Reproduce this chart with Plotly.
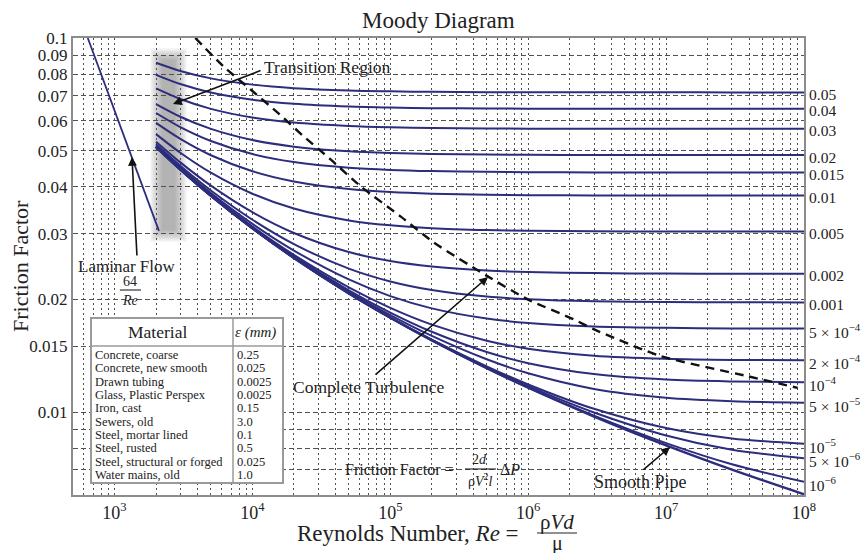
import math
import plotly.graph_objects as go

# ---------------- data ----------------
re_points = [2000, 3000, 5000, 1e4, 2e4, 5e4, 1e5, 2e5, 5e5, 1e6, 3e6, 1e7, 3e7, 1e8]

f_r_0_05 = [0.08584, 0.08162, 0.07799, 0.07505, 0.07344, 0.07238, 0.07200, 0.07179, 0.07166, 0.07161, 0.07158, 0.07156, 0.07155, 0.07155]
f_r_0_04 = [0.07972, 0.07532, 0.07152, 0.06840, 0.06669, 0.06556, 0.06515, 0.06493, 0.06478, 0.06473, 0.06469, 0.06468, 0.06467, 0.06467]
f_r_0_03 = [0.07334, 0.06870, 0.06464, 0.06127, 0.05940, 0.05816, 0.05770, 0.05746, 0.05730, 0.05724, 0.05720, 0.05718, 0.05717, 0.05717]
f_r_0_02 = [0.06658, 0.06159, 0.05714, 0.05336, 0.05123, 0.04979, 0.04926, 0.04897, 0.04878, 0.04872, 0.04867, 0.04865, 0.04864, 0.04864]
f_r_0_015 = [0.06302, 0.05778, 0.05304, 0.04895, 0.04659, 0.04499, 0.04439, 0.04407, 0.04386, 0.04378, 0.04372, 0.04370, 0.04369, 0.04369]
f_r_0_01 = [0.05928, 0.05373, 0.04859, 0.04404, 0.04135, 0.03946, 0.03875, 0.03836, 0.03811, 0.03801, 0.03794, 0.03792, 0.03791, 0.03791]
f_r_0_005 = [0.05533, 0.04935, 0.04364, 0.03833, 0.03499, 0.03253, 0.03156, 0.03102, 0.03066, 0.03052, 0.03043, 0.03039, 0.03038, 0.03037]
f_r_0_002 = [0.05283, 0.04650, 0.04030, 0.03422, 0.03011, 0.02677, 0.02533, 0.02449, 0.02390, 0.02368, 0.02352, 0.02345, 0.02343, 0.02342]
f_r_0_001 = [0.05197, 0.04551, 0.03910, 0.03267, 0.02812, 0.02418, 0.02234, 0.02119, 0.02035, 0.02003, 0.01978, 0.01969, 0.01965, 0.01964]
f_r_5e_4 = [0.05153, 0.04500, 0.03848, 0.03184, 0.02702, 0.02262, 0.02041, 0.01893, 0.01778, 0.01730, 0.01693, 0.01679, 0.01673, 0.01671]
f_r_2e_4 = [0.05127, 0.04470, 0.03810, 0.03132, 0.02631, 0.02155, 0.01899, 0.01713, 0.01551, 0.01477, 0.01415, 0.01388, 0.01378, 0.01375]
f_r_1e_4 = [0.05118, 0.04459, 0.03797, 0.03115, 0.02606, 0.02116, 0.01845, 0.01639, 0.01447, 0.01351, 0.01263, 0.01221, 0.01207, 0.01201]
f_r_5e_5 = [0.05114, 0.04454, 0.03791, 0.03106, 0.02594, 0.02096, 0.01816, 0.01598, 0.01384, 0.01269, 0.01153, 0.01092, 0.01069, 0.01059]
f_r_1e_5 = [0.05110, 0.04450, 0.03786, 0.03099, 0.02584, 0.02080, 0.01792, 0.01562, 0.01325, 0.01185, 0.01020, 0.009058, 0.008500, 0.008224]
f_r_5e_6 = [0.05110, 0.04450, 0.03785, 0.03098, 0.02583, 0.02078, 0.01789, 0.01558, 0.01317, 0.01173, 0.009974, 0.008657, 0.007927, 0.007519]
f_r_1e_6 = [0.05109, 0.04449, 0.03784, 0.03097, 0.02582, 0.02076, 0.01787, 0.01554, 0.01311, 0.01163, 0.009776, 0.008258, 0.007249, 0.006506]
f_smooth = [0.05109, 0.04449, 0.03784, 0.03097, 0.02581, 0.02076, 0.01786, 0.01553, 0.01309, 0.01161, 0.009724, 0.008142, 0.007013, 0.006026]

roughness_labels = ["0.05", "0.04", "0.03", "0.02", "0.015", "0.01", "0.005", "0.002", "0.001",
                    "5 × 10<sup>−4</sup>", "2 × 10<sup>−4</sup>", "10<sup>−4</sup>", "5 × 10<sup>−5</sup>",
                    "10<sup>−5</sup>", "5 × 10<sup>−6</sup>", "10<sup>−6</sup>"]

laminar_re = [640, 2100]
laminar_f = [0.1, 0.0305]

turb_re = [3850, 6218, 9752, 15300, 23620, 37050, 61130, 119200, 206700, 508700, 991700, 2136000, 2983000, 9120000, 38960000, 90000000]
turb_f = [0.1, 0.0837, 0.0727, 0.0631, 0.0545, 0.0473, 0.0401, 0.0333, 0.0284, 0.02305, 0.02001, 0.0177, 0.01665, 0.01411, 0.01247, 0.0116]

materials = ["Concrete, coarse", "Concrete, new smooth", "Drawn tubing", "Glass, Plastic Perspex",
             "Iron, cast", "Sewers, old", "Steel, mortar lined", "Steel, rusted",
             "Steel, structural or forged", "Water mains, old"]
eps_mm = ["0.25", "0.025", "0.0025", "0.0025", "0.15", "3.0", "0.1", "0.5", "0.025", "1.0"]

x_decades = [100, 1000, 10000, 100000, 1000000, 10000000]
x_mult = [1, 2, 3, 4, 5, 6, 7, 8, 9]
y_grid_vals = [0.006, 0.007, 0.008, 0.009, 0.01, 0.015, 0.02, 0.03, 0.04, 0.05, 0.06, 0.07, 0.08, 0.09, 0.1]
y_grid_text = ["", "", "", "", "0.01", "0.015", "0.02", "0.03", "0.04", "0.05", "0.06", "0.07", "0.08", "0.09", "0.1"]

# ---------------- layout helpers ----------------
W, H = 865, 553
L, R, T, B = 73, 61, 38, 58
PW, PH = W - L - R, H - T - B
FONT = "Liberation Serif"
INK = "#222222"
CURVE = "#2d2d7d"


def P(px, py):
    return (px - L) / PW, (H - B - py) / PH


x_grid_vals = [d * m for d in x_decades for m in x_mult if 500 <= d * m <= 1e8] + [1e8]
x_grid_text = []
for v in x_grid_vals:
    e = math.log10(v)
    x_grid_text.append("10<sup>%d</sup>" % round(e) if abs(e - round(e)) < 1e-9 else "")

rough_curves = [f_r_0_05, f_r_0_04, f_r_0_03, f_r_0_02, f_r_0_015, f_r_0_01, f_r_0_005, f_r_0_002,
                f_r_0_001, f_r_5e_4, f_r_2e_4, f_r_1e_4, f_r_5e_5, f_r_1e_5, f_r_5e_6, f_r_1e_6]

fig = go.Figure()

for lab, ys in zip(roughness_labels, rough_curves):
    fig.add_trace(go.Scatter(x=re_points, y=ys, mode="lines", name=lab,
                             line=dict(color=CURVE, width=2, shape="spline", smoothing=0.8),
                             hoverinfo="skip"))
fig.add_trace(go.Scatter(x=re_points, y=f_smooth, mode="lines", name="smooth",
                         line=dict(color=CURVE, width=2.4, shape="spline", smoothing=0.8)))
fig.add_trace(go.Scatter(x=laminar_re, y=laminar_f, mode="lines", name="laminar",
                         line=dict(color=CURVE, width=1.8)))
fig.add_trace(go.Scatter(x=turb_re, y=turb_f, mode="lines", name="complete turbulence",
                         line=dict(color="#111111", width=2.4, dash="9px,6px", shape="spline", smoothing=0.6)))

shapes = []
# blurred grey transition band
for i in range(10):
    d = i * 1.3
    x0, y0 = P(162 - d, 60 - d)
    x1, y1 = P(175 + d, 230 + d)
    shapes.append(dict(type="rect", xref="paper", yref="paper", x0=x0, y0=y0, x1=x1, y1=y1,
                       fillcolor="rgba(120,120,120,0.075)", line=dict(width=0), layer="below"))

# material table
tx0, ty0 = P(91, 318)
tx1, ty1 = P(283, 483)
shapes.append(dict(type="rect", xref="paper", yref="paper", x0=tx0, y0=ty0, x1=tx1, y1=ty1,
                   fillcolor="white", line=dict(color="#9a9a9a", width=2), layer="above"))
hx0, hy = P(91, 346)
hx1, _ = P(283, 346)
shapes.append(dict(type="line", xref="paper", yref="paper", x0=hx0, y0=hy, x1=hx1, y1=hy,
                   line=dict(color="#9a9a9a", width=1.5), layer="above"))
vx, vy0 = P(233, 318)
_, vy1 = P(233, 483)
shapes.append(dict(type="line", xref="paper", yref="paper", x0=vx, y0=vy0, x1=vx, y1=vy1,
                   line=dict(color="#9a9a9a", width=1.5), layer="above"))


def hline(px0, px1, py, w=1.1):
    a, b = P(px0, py)
    c, _ = P(px1, py)
    shapes.append(dict(type="line", xref="paper", yref="paper", x0=a, y0=b, x1=c, y1=b,
                       line=dict(color=INK, width=w), layer="above"))


hline(120, 141, 290)     # 64/Re
hline(465, 496, 469)     # 2d / rho V^2 l
hline(537, 577, 533)     # rho V d / mu

ann = []


def text(px, py, s, size=16, anchor="center", angle=0, color=INK):
    x, y = P(px, py)
    ann.append(dict(x=x, y=y, xref="paper", yref="paper", text=s, showarrow=False,
                    xanchor=anchor, yanchor="middle", textangle=angle,
                    font=dict(family=FONT, size=size, color=color)))


def arrow(hx, hy_, tx, ty):
    x, y = P(hx, hy_)
    ann.append(dict(x=x, y=y, xref="paper", yref="paper", text="", showarrow=True,
                    ax=tx - hx, ay=ty - hy_, arrowhead=2, arrowsize=1.1, arrowwidth=1.6,
                    arrowcolor="#111111", standoff=0))


text(438, 21, "Moody Diagram", size=23)
text(20, 266, "Friction Factor", size=22, angle=-90)
text(521, 533, "Reynolds Number, <i>Re</i> =", size=23, anchor="right")
text(557, 522, "ρ<i>Vd</i>", size=21)
text(557, 543, "μ", size=20)

text(327, 67, "Transition Region", size=17.5)
arrow(173, 104, 262, 70)
text(127, 266, "Laminar Flow", size=17)
text(130, 281, "64", size=14)
text(130, 300, "<i>Re</i>", size=14)
arrow(132, 157, 137, 257)
text(368, 387, "Complete Turbulence", size=17.5)
arrow(488, 277, 374, 376)
text(640, 482, "Smooth Pipe", size=18)
arrow(670, 447, 642, 471)

text(456, 469, "Friction Factor =", size=16, anchor="right")
text(480, 459, "2<i>d</i>", size=14)
text(480, 480, "ρ<i>V</i><sup>2</sup><i>l</i>", size=14)
text(498, 469, "Δ<i>P</i>", size=16, anchor="left")

# table text
text(157, 332, "Material", size=17.5)
text(255, 332, "<i>ε (mm)</i>", size=15)
for i, (m, e) in enumerate(zip(materials, eps_mm)):
    yy = 355 + i * 13.35
    text(93, yy, m, size=12.5, anchor="left")
    text(235, yy, e, size=12.5, anchor="left")

# roughness labels at the right end of each curve
for lab, ys in zip(roughness_labels, rough_curves):
    ann.append(dict(x=1, y=math.log10(ys[-1]), xref="paper", yref="y", text=lab, showarrow=False,
                    xanchor="left", yanchor="middle", xshift=3, yshift=-2,
                    font=dict(family=FONT, size=15.5, color=INK)))

fig.update_layout(
    width=W, height=H, margin=dict(l=L, r=R, t=T, b=B),
    paper_bgcolor="white", plot_bgcolor="white", showlegend=False,
    font=dict(family=FONT, color=INK),
    shapes=shapes, annotations=ann,
    xaxis=dict(type="log", range=[math.log10(500), 8], tickmode="array",
               tickvals=x_grid_vals, ticktext=x_grid_text, ticks="",
               tickfont=dict(family=FONT, size=18, color=INK),
               showgrid=True, gridcolor="#505050", gridwidth=1.2, griddash="2px,3px",
               showline=True, linecolor="#8c8c8c", linewidth=2, mirror=True, zeroline=False),
    yaxis=dict(type="log", range=[math.log10(0.006), -1], tickmode="array",
               tickvals=y_grid_vals, ticktext=y_grid_text, ticks="",
               tickfont=dict(family=FONT, size=17, color=INK),
               showgrid=True, gridcolor="#505050", gridwidth=1.2, griddash="5px,3px",
               showline=True, linecolor="#8c8c8c", linewidth=2, mirror=True, zeroline=False),
)

fig.write_html("out.html")
